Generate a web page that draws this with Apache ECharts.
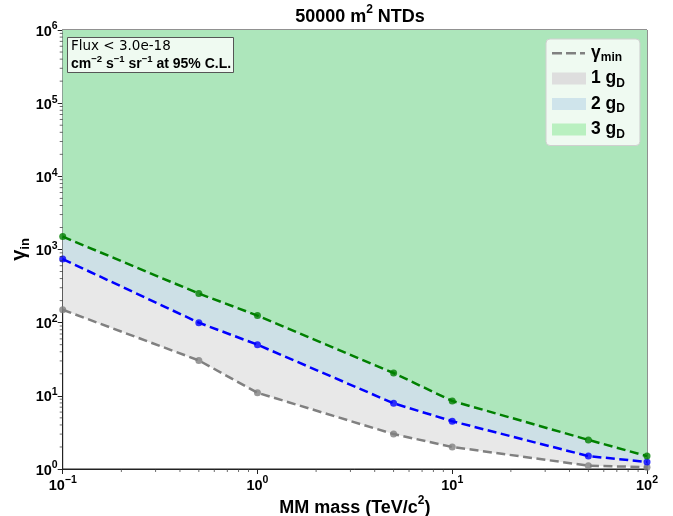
<!DOCTYPE html>
<html>
<head>
<meta charset="utf-8">
<script src="https://cdn.jsdelivr.net/npm/echarts@6/dist/echarts.min.js"></script>
<style>
  html, body { margin: 0; padding: 0; background: #fff; }
  #chart { width: 673px; height: 516px; }
</style>
</head>
<body>
<div id="chart"></div>
<script>
// Monopole mass points (TeV/c^2)
const massTeV = [0.1, 0.5, 1, 5, 10, 50, 100];
// Minimum gamma_in for each magnetic charge
const gamma1gD = [150, 30.5, 11, 3, 2, 1.11, 1.06];
const gamma2gD = [740, 100, 50, 7.9, 4.5, 1.5, 1.25];
const gamma3gD = [1500, 250, 125, 20.5, 8.5, 2.5, 1.5];

// Axis ranges
const xMin = 0.1, xMax = 100;
const yMin = 1, yMax = 1e6;

// Minor tick values (2..9 inside each decade)
const xMinorTicks = [];
for (let d = -1; d < 2; d++) for (let k = 2; k <= 9; k++) xMinorTicks.push(+(k * Math.pow(10, d)).toPrecision(3));
const yMinorTicks = [];
for (let d = 0; d < 6; d++) for (let k = 2; k <= 9; k++) yMinorTicks.push(k * Math.pow(10, d));

const FONT = '"Liberation Sans", Arial, sans-serif';
const fillGray = '#e8e8e8', fillBlue = '#cde0e6', fillGreen = '#ade6bb';

const pairs = ys => massTeV.map((x, i) => [x, ys[i]]);

function powLabel(v) {
  const e = Math.round(Math.log10(v));
  return '{b|10}{s|' + (e < 0 ? '\u2212' + (-e) : e) + '}';
}

const tickRich = {
  b: { fontFamily: FONT, fontWeight: 'bold', fontSize: 14.5, color: '#000', lineHeight: 18, verticalAlign: 'bottom' },
  s: { fontFamily: FONT, fontWeight: 'bold', fontSize: 10.5, color: '#000', lineHeight: 18, verticalAlign: 'top', padding: [0, 0, 6, 0] }
};

// Short outward ticks at the 2..9 sub-decade values
function minorTickSeries(values, horizontal) {
  return {
    type: 'scatter',
    silent: true,
    clip: false,
    z: 10,
    symbol: 'rect',
    symbolSize: horizontal ? [0.9, 3] : [3, 0.9],
    symbolOffset: horizontal ? [0, 1.5] : [-1.5, 0],
    itemStyle: { color: '#333' },
    data: values.map(v => horizontal ? [v, yMin] : [xMin, v])
  };
}

function areaSeries(name, ys, color, z) {
  return {
    name: name,
    type: 'line',
    data: pairs(ys),
    symbol: 'none',
    z: z,
    silent: true,
    itemStyle: { color: color },
    lineStyle: { width: 0, color: color },
    areaStyle: { color: color, opacity: 1, origin: 'end' }
  };
}

function dashedSeries(name, ys, color) {
  return [{
    name: name,
    type: 'line',
    data: pairs(ys),
    symbol: 'none',
    z: 5,
    itemStyle: { color: color },
    lineStyle: { color: color, width: 2.5, type: [9, 4.5] }
  }, {
    type: 'scatter',
    data: pairs(ys),
    symbol: 'circle',
    symbolSize: 7,
    z: 6,
    itemStyle: { color: color }
  }];
}

const chart = echarts.init(document.getElementById('chart'), null, { renderer: 'canvas' });

chart.setOption({
  animation: false,
  backgroundColor: '#fff',
  title: [{
    text: '{t|50000 m}{s|2}{t| NTDs}',
    left: 355, top: -1, textAlign: 'center',
    textStyle: {
      rich: {
        t: { fontFamily: FONT, fontWeight: 'bold', fontSize: 18, color: '#000', lineHeight: 22, verticalAlign: 'bottom' },
        s: { fontFamily: FONT, fontWeight: 'bold', fontSize: 12, color: '#000', lineHeight: 22, verticalAlign: 'top', padding: [0, 0, 7, 0] }
      }
    }
  }, {
    text: '{n|Flux < 3.0e-18}\n{b|cm}{s|\u22122}{b| s}{s|\u22121}{b| sr}{s|\u22121}{b| at 95% C.L.}',
    left: 67, top: 36,
    padding: [2, 3, 2, 4],
    backgroundColor: 'rgba(255,255,255,0.8)',
    borderColor: '#555', borderWidth: 1,
    textStyle: {
      fontWeight: 'normal',
      rich: {
        n: { fontFamily: '"DejaVu Sans", sans-serif', fontWeight: 'normal', fontSize: 13.5, color: '#000', lineHeight: 16 },
        b: { fontFamily: FONT, fontWeight: 'bold', fontSize: 14, color: '#000', lineHeight: 17, verticalAlign: 'bottom' },
        s: { fontFamily: FONT, fontWeight: 'bold', fontSize: 9.5, color: '#000', lineHeight: 17, verticalAlign: 'top', padding: [0, 0, 4, 0] }
      }
    }
  }],
  legend: {
    orient: 'vertical',
    left: 546, top: 39,
    padding: [5, 15, 5, 6],
    itemWidth: 34, itemHeight: 12,
    itemGap: 5.5,
    itemTextGap: 12,
    backgroundColor: 'rgba(255,255,255,0.8)',
    borderColor: '#d0d0d0', borderWidth: 1, borderRadius: 4,
    data: [
      { name: '\u03b3min', icon: 'path://M0,0M34,12M0,5h10v2.5h-10zM14,5h10v2.5h-10zM28,5h5v2.5h-5z', itemStyle: { color: '#808080' } },
      { name: '1 gD', icon: 'rect', itemStyle: { color: '#dedede' } },
      { name: '2 gD', icon: 'rect', itemStyle: { color: '#cfe4eb' } },
      { name: '3 gD', icon: 'rect', itemStyle: { color: '#b9f0c0' } }
    ],
    formatter: function (name) {
      if (name === '\u03b3min') return '{m|\u03b3}{sub|min}';
      return '{m|' + name.slice(0, 3) + '}{sub|D}';
    },
    textStyle: {
      rich: {
        m: { fontFamily: FONT, fontWeight: 'bold', fontSize: 17.5, color: '#000', lineHeight: 18, verticalAlign: 'bottom' },
        sub: { fontFamily: FONT, fontWeight: 'bold', fontSize: 12, color: '#000', lineHeight: 18, verticalAlign: 'bottom', padding: [0, 0, -2, 0] }
      }
    }
  },
  grid: {
    left: 62.7, right: 26, top: 30, bottom: 47,
    outerBoundsMode: 'none',
    show: true, borderColor: '#222', borderWidth: 1
  },
  xAxis: {
    type: 'log', logBase: 10, min: xMin, max: xMax, splitNumber: 3,
    name: '{t|MM mass (TeV/c}{s|2}{t|)}',
    nameLocation: 'middle', nameGap: 26, nameMoveOverlap: false,
    nameTextStyle: {
      rich: {
        t: { fontFamily: FONT, fontWeight: 'bold', fontSize: 18, color: '#000', lineHeight: 22, verticalAlign: 'bottom' },
        s: { fontFamily: FONT, fontWeight: 'bold', fontSize: 12, color: '#000', lineHeight: 22, verticalAlign: 'top', padding: [0, 0, 7, 0] }
      }
    },
    axisLine: { show: true, lineStyle: { color: '#222', width: 1 } },
    axisTick: { show: true, length: 5, lineStyle: { color: '#222', width: 1 } },
    splitLine: { show: false },
    axisLabel: { formatter: powLabel, rich: tickRich, margin: 6 }
  },
  yAxis: {
    type: 'log', logBase: 10, min: yMin, max: yMax, splitNumber: 6,
    name: '{g|\u03b3}{i|in}',
    nameLocation: 'middle', nameGap: 33, nameRotate: 90, nameMoveOverlap: false,
    nameTextStyle: {
      rich: {
        g: { fontFamily: FONT, fontWeight: 'bold', fontSize: 20, color: '#000', lineHeight: 22, verticalAlign: 'bottom' },
        i: { fontFamily: FONT, fontWeight: 'bold', fontSize: 13, color: '#000', lineHeight: 22, verticalAlign: 'bottom', padding: [0, 0, -2, 0] }
      }
    },
    axisLine: { show: true, lineStyle: { color: '#222', width: 1 } },
    axisTick: { show: true, length: 5, lineStyle: { color: '#222', width: 1 } },
    splitLine: { show: false },
    axisLabel: { formatter: powLabel, rich: tickRich, margin: 5 }
  },
  series: [
    areaSeries('1 gD', gamma1gD, fillGray, 1),
    areaSeries('2 gD', gamma2gD, fillBlue, 2),
    areaSeries('3 gD', gamma3gD, fillGreen, 3),
    ...dashedSeries('\u03b3min', gamma1gD, '#808080'),
    ...dashedSeries('gamma2', gamma2gD, '#0000ff'),
    ...dashedSeries('gamma3', gamma3gD, '#008000'),
    minorTickSeries(xMinorTicks, true),
    minorTickSeries(yMinorTicks, false)
  ]
});
</script>
</body>
</html>
